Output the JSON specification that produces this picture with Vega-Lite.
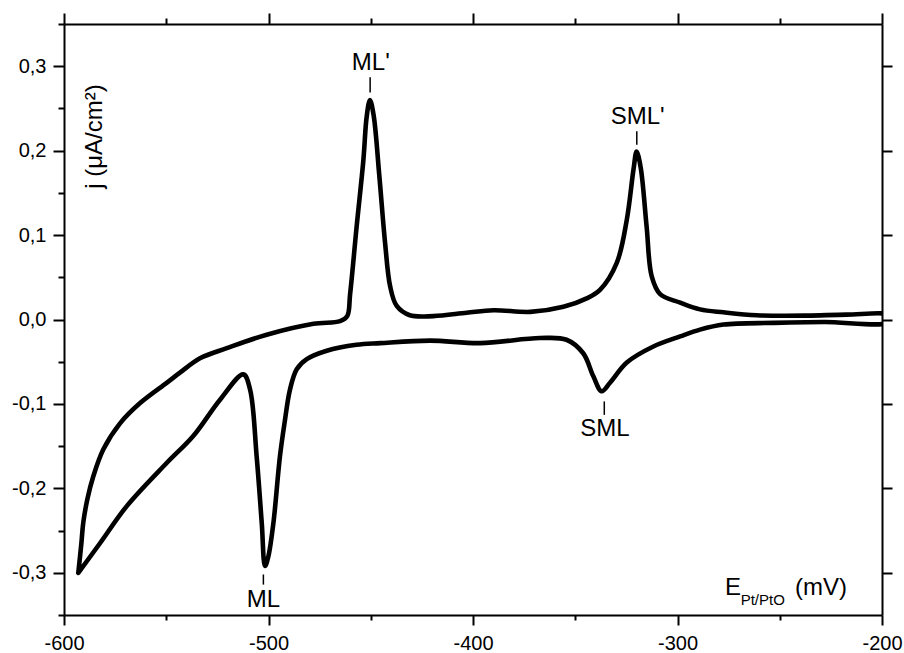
{
  "$schema": "https://vega.github.io/schema/vega-lite/v6.json",
  "width": 818,
  "height": 591,
  "autosize": "none",
  "padding": {"left": 64, "top": 24, "right": 22, "bottom": 38},
  "background": "white",
  "config": {
    "view": {"stroke": null},
    "font": "Liberation Sans",
    "axis": {
      "domainColor": "black", "domainWidth": 2, "tickColor": "black", "tickWidth": 2,
      "labelColor": "black", "labelFont": "Liberation Sans", "labelFontSize": 20,
      "titleFont": "Liberation Sans", "titleColor": "black", "titleFontWeight": "normal",
      "grid": false
    }
  },
  "datasets": {
    "curve": [
      {"i": 1, "E": -593, "j": -0.300},
      {"i": 2, "E": -591.5, "j": -0.265},
      {"i": 3, "E": -590.6, "j": -0.241},
      {"i": 4, "E": -588.5, "j": -0.212},
      {"i": 5, "E": -585.7, "j": -0.186},
      {"i": 6, "E": -580.8, "j": -0.154},
      {"i": 7, "E": -572.6, "j": -0.123},
      {"i": 8, "E": -562.8, "j": -0.099},
      {"i": 9, "E": -549.8, "j": -0.075},
      {"i": 10, "E": -543.3, "j": -0.063},
      {"i": 11, "E": -533.5, "j": -0.046},
      {"i": 12, "E": -520.4, "j": -0.034},
      {"i": 13, "E": -500.9, "j": -0.018},
      {"i": 14, "E": -478.0, "j": -0.005},
      {"i": 15, "E": -465.0, "j": -0.002},
      {"i": 16, "E": -461.5, "j": 0.004},
      {"i": 17, "E": -460.1, "j": 0.030},
      {"i": 18, "E": -456.9, "j": 0.110},
      {"i": 19, "E": -453.6, "j": 0.189},
      {"i": 20, "E": -452.0, "j": 0.240},
      {"i": 21, "E": -450.4, "j": 0.260},
      {"i": 22, "E": -448.6, "j": 0.242},
      {"i": 23, "E": -445.8, "j": 0.170},
      {"i": 24, "E": -443.0, "j": 0.091},
      {"i": 25, "E": -440.5, "j": 0.039},
      {"i": 26, "E": -437.3, "j": 0.016},
      {"i": 27, "E": -430.9, "j": 0.005},
      {"i": 28, "E": -419.4, "j": 0.004},
      {"i": 29, "E": -403.1, "j": 0.008},
      {"i": 30, "E": -390.0, "j": 0.011},
      {"i": 31, "E": -372.0, "j": 0.009},
      {"i": 32, "E": -355.8, "j": 0.015},
      {"i": 33, "E": -344.4, "j": 0.025},
      {"i": 34, "E": -337.9, "j": 0.035},
      {"i": 35, "E": -329.7, "j": 0.067},
      {"i": 36, "E": -324.8, "j": 0.118},
      {"i": 37, "E": -321.5, "j": 0.178},
      {"i": 38, "E": -320.0, "j": 0.199},
      {"i": 39, "E": -318.0, "j": 0.180},
      {"i": 40, "E": -315.1, "j": 0.110},
      {"i": 41, "E": -312.6, "j": 0.051},
      {"i": 42, "E": -308.5, "j": 0.030},
      {"i": 43, "E": -298.7, "j": 0.020},
      {"i": 44, "E": -289.0, "j": 0.012},
      {"i": 45, "E": -277.5, "j": 0.0085},
      {"i": 46, "E": -261.2, "j": 0.005},
      {"i": 47, "E": -236.8, "j": 0.0046},
      {"i": 48, "E": -217.3, "j": 0.0058},
      {"i": 49, "E": -196.0, "j": 0.005},
      {"i": 50, "E": -196.0, "j": -0.003},
      {"i": 51, "E": -228.5, "j": -0.003},
      {"i": 52, "E": -253.0, "j": -0.004},
      {"i": 53, "E": -277.5, "j": -0.006},
      {"i": 54, "E": -289.0, "j": -0.012},
      {"i": 55, "E": -298.7, "j": -0.020},
      {"i": 56, "E": -311.8, "j": -0.032},
      {"i": 57, "E": -324.8, "j": -0.051},
      {"i": 58, "E": -333.0, "j": -0.075},
      {"i": 59, "E": -337.1, "j": -0.085},
      {"i": 60, "E": -341.2, "j": -0.067},
      {"i": 61, "E": -346.1, "j": -0.040},
      {"i": 62, "E": -354.3, "j": -0.024},
      {"i": 63, "E": -367.3, "j": -0.022},
      {"i": 64, "E": -396.5, "j": -0.028},
      {"i": 65, "E": -421.0, "j": -0.025},
      {"i": 66, "E": -445.4, "j": -0.028},
      {"i": 67, "E": -457.0, "j": -0.030},
      {"i": 68, "E": -471.5, "j": -0.037},
      {"i": 69, "E": -481.3, "j": -0.047},
      {"i": 70, "E": -486.2, "j": -0.059},
      {"i": 71, "E": -489.5, "j": -0.083},
      {"i": 72, "E": -492.0, "j": -0.120},
      {"i": 73, "E": -494.4, "j": -0.162},
      {"i": 74, "E": -497.6, "j": -0.241},
      {"i": 75, "E": -500.1, "j": -0.281},
      {"i": 76, "E": -501.7, "j": -0.292},
      {"i": 77, "E": -503.3, "j": -0.241},
      {"i": 78, "E": -505.8, "j": -0.162},
      {"i": 79, "E": -509.0, "j": -0.083},
      {"i": 80, "E": -512.3, "j": -0.065},
      {"i": 81, "E": -523.7, "j": -0.095},
      {"i": 82, "E": -536.8, "j": -0.138},
      {"i": 83, "E": -549.8, "j": -0.170},
      {"i": 84, "E": -569.3, "j": -0.221},
      {"i": 85, "E": -582.4, "j": -0.265},
      {"i": 86, "E": -593, "j": -0.300}
    ],
    "marks": [
      {"E": -450.3, "j": 0.287, "j2": 0.269},
      {"E": -319.9, "j": 0.223, "j2": 0.207},
      {"E": -502.5, "j": -0.302, "j2": -0.314},
      {"E": -335.8, "j": -0.097, "j2": -0.113}
    ],
    "peaks": [
      {"E": -450.0, "j": 0.295, "label": "ML'"},
      {"E": -319.5, "j": 0.232, "label": "SML'"},
      {"E": -502.5, "j": -0.340, "label": "ML"},
      {"E": -335.5, "j": -0.138, "label": "SML"}
    ],
    "xtitle": [
      {"E": -276.8, "j": -0.3268, "label": "E"},
      {"E": -242.5, "j": -0.3268, "label": "(mV)"}
    ],
    "xsub": [
      {"E": -269.1, "j": -0.3378, "label": "Pt/PtO"}
    ]
  },
  "resolve": {"axis": {"x": "independent", "y": "independent"}},
  "layer": [
    {
      "data": {"name": "curve"},
      "mark": {"type": "line", "color": "black", "strokeWidth": 4.6, "interpolate": "catmull-rom", "strokeJoin": "round", "strokeCap": "round", "clip": true},
      "encoding": {
        "x": {"field": "E", "type": "quantitative", "scale": {"domain": [-600, -200], "nice": false, "zero": false},
          "axis": {"orient": "bottom", "title": null,
            "values": [-600, -550, -500, -450, -400, -350, -300, -250, -200],
            "tickSize": {"condition": {"test": "abs(datum.value % 100) < 1", "value": 10}, "value": 5},
            "labelExpr": "abs(datum.value % 100) < 1 ? replace(format(datum.value, 'd'), '\u2212', '-') : ''",
            "labelFontSize": 20, "labelPadding": 8, "labelFlush": false, "labelOverlap": false}},
        "y": {"field": "j", "type": "quantitative", "scale": {"domain": [-0.35, 0.35], "nice": false, "zero": false},
          "axis": {"orient": "left", "title": "j (\u03bcA/cm\u00b2)",
            "values": [-0.35, -0.3, -0.25, -0.2, -0.15, -0.1, -0.05, 0, 0.05, 0.1, 0.15, 0.2, 0.25, 0.3, 0.35],
            "tickSize": {"condition": {"test": "abs(round(datum.value * 100)) % 10 == 0", "value": 11}, "value": 6},
            "labelExpr": "abs(round(datum.value * 100)) % 10 != 0 || abs(datum.value) > 0.32 ? '' : replace(replace(format(datum.value, '.1f'), '.', ','), '\u2212', '-')",
            "labelFontSize": 20, "labelPadding": 7, "labelFlush": false, "labelOverlap": false,
            "titleFontSize": 24, "titleAngle": 270, "titleX": 37, "titleY": 112, "titleAlign": "center", "titleBaseline": "alphabetic"}},
        "order": {"field": "i", "type": "quantitative"}
      }
    },
    {
      "data": {"name": "marks"},
      "mark": {"type": "rule", "color": "black", "strokeWidth": 1.5},
      "encoding": {
        "x": {"field": "E", "type": "quantitative",
          "axis": {"orient": "top", "title": null, "labels": false,
            "values": [-600, -550, -500, -450, -400, -350, -300, -250, -200],
            "tickSize": {"condition": {"test": "abs(datum.value % 100) < 1", "value": 11}, "value": 6}}},
        "y": {"field": "j", "type": "quantitative",
          "axis": {"orient": "right", "title": null, "labels": false,
            "values": [-0.3, -0.2, -0.1, 0, 0.1, 0.2, 0.3], "tickSize": 10}},
        "y2": {"field": "j2"}
      }
    },
    {
      "data": {"name": "peaks"},
      "mark": {"type": "text", "color": "black", "fontSize": 24, "align": "center", "baseline": "alphabetic", "font": "Liberation Sans"},
      "encoding": {
        "x": {"field": "E", "type": "quantitative", "axis": null},
        "y": {"field": "j", "type": "quantitative", "axis": null},
        "text": {"field": "label"}
      }
    },
    {
      "data": {"name": "xtitle"},
      "mark": {"type": "text", "color": "black", "fontSize": 24, "align": "left", "baseline": "alphabetic", "font": "Liberation Sans"},
      "encoding": {
        "x": {"field": "E", "type": "quantitative", "axis": null},
        "y": {"field": "j", "type": "quantitative", "axis": null},
        "text": {"field": "label"}
      }
    },
    {
      "data": {"name": "xsub"},
      "mark": {"type": "text", "color": "black", "fontSize": 15, "align": "left", "baseline": "alphabetic", "font": "Liberation Sans"},
      "encoding": {
        "x": {"field": "E", "type": "quantitative", "axis": null},
        "y": {"field": "j", "type": "quantitative", "axis": null},
        "text": {"field": "label"}
      }
    }
  ]
}
